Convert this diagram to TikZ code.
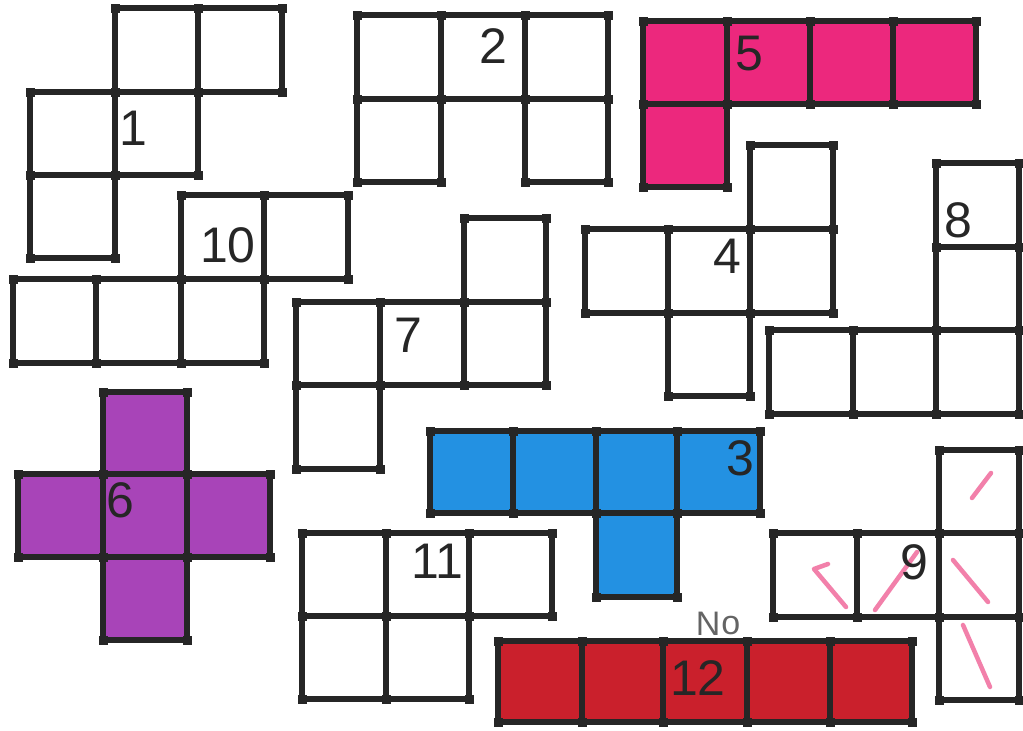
\documentclass[tikz,border=0pt]{standalone}
\usepackage{fontspec}
\setmainfont{Liberation Sans}
\definecolor{linec}{RGB}{38,38,38}
\definecolor{pinkfill}{RGB}{236,40,125}
\definecolor{purplefill}{RGB}{168,68,184}
\definecolor{bluefill}{RGB}{35,145,226}
\definecolor{redfill}{RGB}{202,32,44}
\definecolor{pinkmark}{RGB}{242,128,170}
\definecolor{graytext}{RGB}{100,100,100}
\tikzset{
  gridl/.style={draw=linec, line width=5.5pt, line join=miter},
  dotc/.style={fill=linec},
  numlabel/.style={inner sep=0pt, text=linec, font=\fontsize{50}{50}\selectfont},
  marker/.style={draw=pinkmark, line width=4.5pt, line cap=round, line join=round}
}
\newcommand\pentshape[2]{%
  \foreach \a/\b/\c/\d in {#2} {\fill[#1] (\a,\b) rectangle (\c,\d);}
  \foreach \a/\b/\c/\d in {#2} {\draw[gridl] (\a,\b) rectangle (\c,\d);}
  \foreach \a/\b/\c/\d in {#2} {%
    \fill[dotc] (\a,\b) ++(-4.5,-4.5) rectangle ++(9,9);
    \fill[dotc] (\c,\b) ++(-4.5,-4.5) rectangle ++(9,9);
    \fill[dotc] (\a,\d) ++(-4.5,-4.5) rectangle ++(9,9);
    \fill[dotc] (\c,\d) ++(-4.5,-4.5) rectangle ++(9,9);}
}
\begin{document}
\begin{tikzpicture}[x=1pt,y=-1pt]
\useasboundingbox (0,0) rectangle (1023,731);
\fill[white] (0,0) rectangle (1023,731);
% No text (drawn first, partly hidden by shape 12)
\node[inner sep=0pt, text=graytext, font=\fontsize{34}{34}\selectfont] (numsign) at (718,624) {N\kern1pt\raisebox{1pt}{o}};
% shape 1
\pentshape{white}{115/8/198/92, 198/8/282/92, 30/92/115/175, 115/92/198/175, 30/175/115/258}
% shape 2
\pentshape{white}{357/15/441/99, 441/15/525/99, 525/15/608/99, 357/99/441/182, 525/99/608/182}
% shape 5
\pentshape{pinkfill}{643/21/727/104, 727/21/810/104, 810/21/893/104, 893/21/976/104, 643/104/727/187}
% shape 10
\pentshape{white}{181/195/264/279, 264/195/348/279, 13/279/96/363, 96/279/181/363, 181/279/264/363}
% shape 7
\pentshape{white}{464/218/546/302, 296/302/380/385, 380/302/464/385, 464/302/546/385, 296/385/380/469}
% shape 4
\pentshape{white}{750/145/833/229, 585/229/668/313, 668/229/750/313, 750/229/833/313, 668/313/750/396}
% shape 8
\pentshape{white}{936/163/1019/247, 936/247/1019/330, 769/330/853/414, 853/330/936/414, 936/330/1019/414}
% shape 6
\pentshape{purplefill}{103/392/187/474, 18/474/103/557, 103/474/187/557, 187/474/270/557, 103/557/187/640}
% shape 3
\pentshape{bluefill}{430/431/513/513, 513/431/596/513, 596/431/677/513, 677/431/760/513, 596/513/677/597}
% shape 11
\pentshape{white}{302/533/386/616, 386/533/469/616, 469/533/552/616, 302/616/386/699, 386/616/469/699}
% shape 12
\pentshape{redfill}{498/641/582/722, 582/641/663/722, 663/641/747/722, 747/641/830/722, 830/641/912/722}
% shape 9
\pentshape{white}{939/450/1019/533, 773/533/857/617, 857/533/939/617, 939/533/1019/617, 939/617/1019/700}
% pink marker strokes in shape 9
\draw[marker] (991,473) -- (972,498);
\draw[marker] (828,564) -- (814,569) -- (846,607);
\draw[marker] (917,552) -- (875,610);
\draw[marker] (953,560) -- (988,602);
\draw[marker] (963,625) -- (990,687);
% labels
\node[numlabel] (l1) at (133,128) {1};
\node[numlabel] (l2) at (493,46) {2};
\node[numlabel] (l5) at (749,54) {5};
\node[numlabel] (l10) at (228,245) {10};
\node[numlabel] (l7) at (408,335) {7};
\node[numlabel] (l4) at (727,256) {4};
\node[numlabel] (l8) at (958,220) {8};
\node[numlabel] (l6) at (120,500) {6};
\node[numlabel] (l3) at (740,458) {3};
\node[numlabel] (l11) at (437,561) {11};
\node[numlabel] (l12) at (698,678) {12};
\node[numlabel] (l9) at (914,562) {9};
\end{tikzpicture}
\end{document}
